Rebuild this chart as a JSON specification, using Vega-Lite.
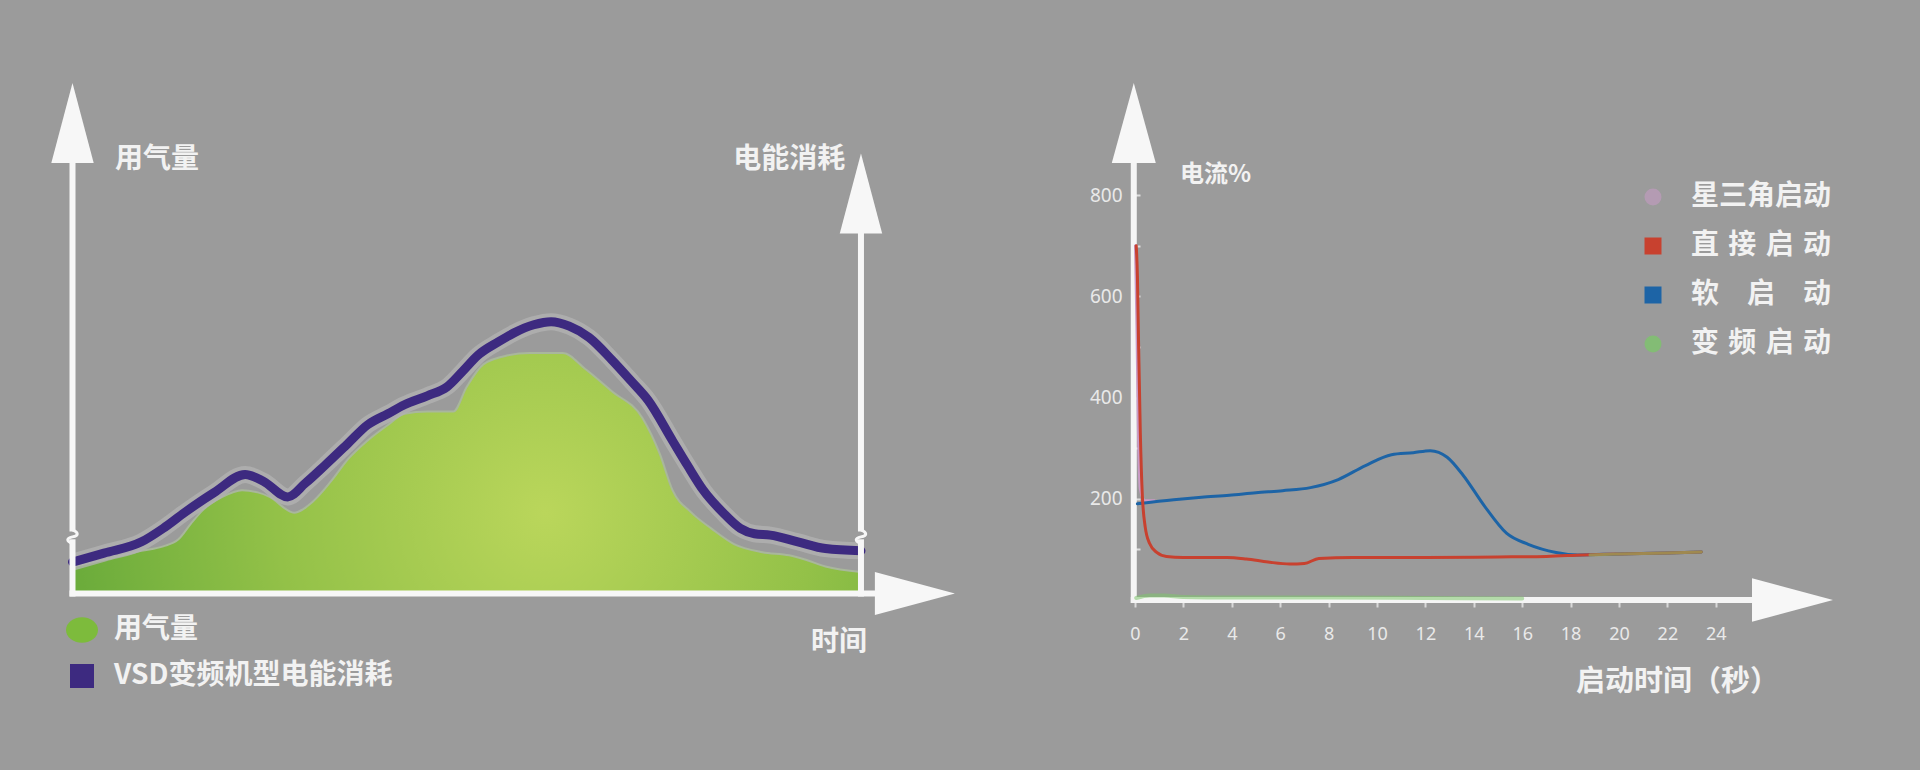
{
  "$schema": "https://vega.github.io/schema/vega-lite/v6.json",
  "background": "#9b9b9b",
  "padding": 0,
  "spacing": 0,
  "config": {"view": {"stroke": null}, "font": "Noto Sans CJK SC"},
  "resolve": {"scale": {"x": "independent", "y": "independent", "color": "independent"}, "legend": {"color": "independent"}},
  "datasets": {
    "usage": [
      {"series": "用气量", "t": 0, "v": 6},
      {"series": "用气量", "t": 4, "v": 7.5},
      {"series": "用气量", "t": 8.75, "v": 9.5},
      {"series": "用气量", "t": 11.5, "v": 10.5},
      {"series": "用气量", "t": 13.4, "v": 12},
      {"series": "用气量", "t": 15, "v": 15.5},
      {"series": "用气量", "t": 16.5, "v": 18.5},
      {"series": "用气量", "t": 19, "v": 21.5},
      {"series": "用气量", "t": 21.5, "v": 23},
      {"series": "用气量", "t": 23.5, "v": 22.5},
      {"series": "用气量", "t": 25, "v": 21.5},
      {"series": "用气量", "t": 28.1, "v": 18},
      {"series": "用气量", "t": 30.5, "v": 20.5},
      {"series": "用气量", "t": 32.8, "v": 25},
      {"series": "用气量", "t": 35, "v": 30},
      {"series": "用气量", "t": 37.4, "v": 34},
      {"series": "用气量", "t": 40, "v": 37.5},
      {"series": "用气量", "t": 42.1, "v": 40},
      {"series": "用气量", "t": 45, "v": 40.5},
      {"series": "用气量", "t": 48.3, "v": 40.5},
      {"series": "用气量", "t": 50, "v": 46},
      {"series": "用气量", "t": 52.1, "v": 51},
      {"series": "用气量", "t": 55.2, "v": 53},
      {"series": "用气量", "t": 58, "v": 53.5},
      {"series": "用气量", "t": 62.2, "v": 53.5},
      {"series": "用气量", "t": 65, "v": 50},
      {"series": "用气量", "t": 68.4, "v": 45},
      {"series": "用气量", "t": 72.3, "v": 39},
      {"series": "用气量", "t": 74.5, "v": 31},
      {"series": "用气量", "t": 76.1, "v": 23},
      {"series": "用气量", "t": 78.5, "v": 18},
      {"series": "用气量", "t": 81, "v": 14.5},
      {"series": "用气量", "t": 83.9, "v": 11},
      {"series": "用气量", "t": 87.5, "v": 9.2},
      {"series": "用气量", "t": 90.9, "v": 8.5},
      {"series": "用气量", "t": 93, "v": 7.5},
      {"series": "用气量", "t": 95.5, "v": 6},
      {"series": "用气量", "t": 100, "v": 4.8},
      {"series": "VSD变频机型电能消耗", "t": 0, "v": 7},
      {"series": "VSD变频机型电能消耗", "t": 4, "v": 9},
      {"series": "VSD变频机型电能消耗", "t": 8.75, "v": 11.5},
      {"series": "VSD变频机型电能消耗", "t": 11.5, "v": 14.5},
      {"series": "VSD变频机型电能消耗", "t": 14.2, "v": 18},
      {"series": "VSD变频机型电能消耗", "t": 18, "v": 22.5},
      {"series": "VSD变频机型电能消耗", "t": 21.9, "v": 26.5},
      {"series": "VSD变频机型电能消耗", "t": 24.2, "v": 25},
      {"series": "VSD变频机型电能消耗", "t": 27.3, "v": 21.5},
      {"series": "VSD变频机型电能消耗", "t": 29.5, "v": 24.5},
      {"series": "VSD变频机型电能消耗", "t": 32, "v": 28.5},
      {"series": "VSD变频机型电能消耗", "t": 35, "v": 33.5},
      {"series": "VSD变频机型电能消耗", "t": 37.4, "v": 37.5},
      {"series": "VSD变频机型电能消耗", "t": 40, "v": 40},
      {"series": "VSD变频机型电能消耗", "t": 42.1, "v": 42},
      {"series": "VSD变频机型电能消耗", "t": 45, "v": 44},
      {"series": "VSD变频机型电能消耗", "t": 47.5, "v": 46},
      {"series": "VSD变频机型电能消耗", "t": 49.5, "v": 49.5},
      {"series": "VSD变频机型电能消耗", "t": 51.4, "v": 53},
      {"series": "VSD变频机型电能消耗", "t": 54, "v": 56},
      {"series": "VSD变频机型电能消耗", "t": 56, "v": 58},
      {"series": "VSD变频机型电能消耗", "t": 58.5, "v": 59.8},
      {"series": "VSD变频机型电能消耗", "t": 60.7, "v": 60.5},
      {"series": "VSD变频机型电能消耗", "t": 63, "v": 59.5},
      {"series": "VSD变频机型电能消耗", "t": 65.5, "v": 57},
      {"series": "VSD变频机型电能消耗", "t": 68.4, "v": 52},
      {"series": "VSD变频机型电能消耗", "t": 71, "v": 47},
      {"series": "VSD变频机型电能消耗", "t": 73, "v": 43},
      {"series": "VSD变频机型电能消耗", "t": 76.1, "v": 34},
      {"series": "VSD变频机型电能消耗", "t": 78, "v": 28.5},
      {"series": "VSD变频机型电能消耗", "t": 80, "v": 23},
      {"series": "VSD变频机型电能消耗", "t": 82.5, "v": 18},
      {"series": "VSD变频机型电能消耗", "t": 84.7, "v": 14.5},
      {"series": "VSD变频机型电能消耗", "t": 86.5, "v": 13.3},
      {"series": "VSD变频机型电能消耗", "t": 88.5, "v": 13},
      {"series": "VSD变频机型电能消耗", "t": 92, "v": 11.5},
      {"series": "VSD变频机型电能消耗", "t": 95.5, "v": 10},
      {"series": "VSD变频机型电能消耗", "t": 100, "v": 9.5}
    ],
    "start": [
      {"series": "星三角启动", "part": "a", "sec": 0.02, "pct": 700},
      {"series": "星三角启动", "part": "a", "sec": 0.08, "pct": 540},
      {"series": "星三角启动", "part": "a", "sec": 0.14, "pct": 340},
      {"series": "星三角启动", "part": "a", "sec": 0.22, "pct": 220},
      {"series": "星三角启动", "part": "a", "sec": 0.4, "pct": 196},
      {"series": "星三角启动", "part": "a", "sec": 0.8, "pct": 196},
      {"series": "软启动", "part": "a", "sec": 0.1, "pct": 190},
      {"series": "软启动", "part": "a", "sec": 1.6, "pct": 198},
      {"series": "软启动", "part": "a", "sec": 2.75, "pct": 203},
      {"series": "软启动", "part": "a", "sec": 3.9, "pct": 207},
      {"series": "软启动", "part": "a", "sec": 5, "pct": 212},
      {"series": "软启动", "part": "a", "sec": 6.1, "pct": 216},
      {"series": "软启动", "part": "a", "sec": 7.25, "pct": 222},
      {"series": "软启动", "part": "a", "sec": 8.4, "pct": 238},
      {"series": "软启动", "part": "a", "sec": 9.5, "pct": 265},
      {"series": "软启动", "part": "a", "sec": 10.6, "pct": 287},
      {"series": "软启动", "part": "a", "sec": 11.5, "pct": 291},
      {"series": "软启动", "part": "a", "sec": 12.2, "pct": 295},
      {"series": "软启动", "part": "a", "sec": 12.9, "pct": 282},
      {"series": "软启动", "part": "a", "sec": 13.55, "pct": 247},
      {"series": "软启动", "part": "a", "sec": 14.45, "pct": 185},
      {"series": "软启动", "part": "a", "sec": 15.35, "pct": 132},
      {"series": "软启动", "part": "a", "sec": 16.25, "pct": 110},
      {"series": "软启动", "part": "a", "sec": 17.4, "pct": 94},
      {"series": "软启动", "part": "a", "sec": 18.3, "pct": 89},
      {"series": "软启动", "part": "a", "sec": 20, "pct": 91},
      {"series": "软启动", "part": "a", "sec": 22, "pct": 93},
      {"series": "软启动", "part": "a", "sec": 23.4, "pct": 95},
      {"series": "直接启动", "part": "a", "sec": 0.05, "pct": 700},
      {"series": "直接启动", "part": "a", "sec": 0.1, "pct": 640},
      {"series": "直接启动", "part": "a", "sec": 0.15, "pct": 500},
      {"series": "直接启动", "part": "a", "sec": 0.22, "pct": 330},
      {"series": "直接启动", "part": "a", "sec": 0.3, "pct": 210},
      {"series": "直接启动", "part": "a", "sec": 0.42, "pct": 145},
      {"series": "直接启动", "part": "a", "sec": 0.6, "pct": 112},
      {"series": "直接启动", "part": "a", "sec": 0.9, "pct": 94},
      {"series": "直接启动", "part": "a", "sec": 1.3, "pct": 86},
      {"series": "直接启动", "part": "a", "sec": 2, "pct": 84},
      {"series": "直接启动", "part": "a", "sec": 3.8, "pct": 84},
      {"series": "直接启动", "part": "a", "sec": 4.6, "pct": 81},
      {"series": "直接启动", "part": "a", "sec": 5.5, "pct": 75},
      {"series": "直接启动", "part": "a", "sec": 6.4, "pct": 71},
      {"series": "直接启动", "part": "a", "sec": 7.0, "pct": 72},
      {"series": "直接启动", "part": "a", "sec": 7.6, "pct": 82},
      {"series": "直接启动", "part": "a", "sec": 9, "pct": 84},
      {"series": "直接启动", "part": "a", "sec": 12, "pct": 84},
      {"series": "直接启动", "part": "a", "sec": 15, "pct": 85},
      {"series": "直接启动", "part": "a", "sec": 17, "pct": 86},
      {"series": "直接启动", "part": "a", "sec": 18.5, "pct": 89},
      {"series": "直接启动", "part": "a", "sec": 20, "pct": 91},
      {"series": "直接启动", "part": "a", "sec": 22, "pct": 93},
      {"series": "直接启动", "part": "a", "sec": 23.4, "pct": 95},
      {"series": "变频启动", "part": "a", "sec": 0.05, "pct": 4},
      {"series": "变频启动", "part": "a", "sec": 0.6, "pct": 9},
      {"series": "变频启动", "part": "a", "sec": 1.2, "pct": 9},
      {"series": "变频启动", "part": "a", "sec": 2, "pct": 6},
      {"series": "变频启动", "part": "a", "sec": 4, "pct": 5},
      {"series": "变频启动", "part": "a", "sec": 8, "pct": 5},
      {"series": "变频启动", "part": "a", "sec": 12, "pct": 4},
      {"series": "变频启动", "part": "a", "sec": 16, "pct": 3},
      {"series": "变频启动", "part": "tail", "sec": 18.8, "pct": 89},
      {"series": "变频启动", "part": "tail", "sec": 20, "pct": 91},
      {"series": "变频启动", "part": "tail", "sec": 22, "pct": 93},
      {"series": "变频启动", "part": "tail", "sec": 23.4, "pct": 95}
    ]
  },
  "hconcat": [
    {
      "width": 960,
      "height": 770,
      "layer": [
        {
          "data": {"name": "usage"},
          "transform": [{"filter": "datum.series === '用气量'"}],
          "mark": {"type": "area", "interpolate": "monotone"},
          "encoding": {
            "x": {"field": "t", "type": "quantitative", "scale": {"domain": [-9.195, 112.56], "nice": false, "zero": false}, "axis": null},
            "y": {"field": "v", "type": "quantitative", "scale": {"domain": [-39.27, 132.07], "nice": false, "zero": false}, "axis": null},
            "y2": {"datum": 0},
            "color": {
              "field": "series", "type": "nominal",
              "scale": {"domain": ["用气量", "VSD变频机型电能消耗"], "range": ["#7dbb3c", "#3d2a80"]},
              "legend": {
                "orient": "none", "legendX": 66, "legendY": 614, "title": null, "padding": 0,
                "labelFont": "Noto Sans CJK SC", "labelFontSize": 28, "labelFontWeight": "bold", "labelColor": "#f2f2f2", "labelLimit": 600,
                "symbolSize": 1024, "labelOffset": 16, "rowPadding": 16,
                "encode": {"symbols": {"update": {
                  "shape": {"signal": "datum.value === '用气量' ? 'M -1 0 A 1 0.8 0 1 1 1 0 A 1 0.8 0 1 1 -1 0 Z' : 'M -0.75 -0.75 L 0.75 -0.75 L 0.75 0.75 L -0.75 0.75 Z'"},
                  "fill": {"signal": "datum.value === '用气量' ? '#7dbb3c' : '#3f2a80'"},
                  "fillOpacity": {"value": 1},
                  "opacity": {"value": 1},
                  "stroke": {"value": "transparent"},
                  "strokeWidth": {"value": 0}
                }}}
              }
            }
          }
        },
        {
          "data": {"name": "usage"},
          "transform": [{"filter": "datum.series === '用气量'"}],
          "mark": {"type": "area", "interpolate": "monotone",
            "fill": {"gradient": "radial", "x1": 0.6, "y1": 0.55, "x2": 0.6, "y2": 0.55, "r1": 0, "r2": 0.62,
              "stops": [{"offset": 0, "color": "#bad65b"}, {"offset": 0.55, "color": "#93c148"}, {"offset": 1, "color": "#68aa3a"}]},
            "stroke": "#a9b79c", "strokeWidth": 2},
          "encoding": {
            "x": {"field": "t", "type": "quantitative", "axis": null},
            "y": {"field": "v", "type": "quantitative", "axis": null},
            "y2": {"datum": 0}
          }
        },
        {
          "data": {"name": "usage"},
          "transform": [{"filter": "datum.series === 'VSD变频机型电能消耗'"}],
          "mark": {"type": "line", "interpolate": "monotone", "color": "#b2b2b2", "strokeWidth": 17, "opacity": 0.8},
          "encoding": {
            "x": {"field": "t", "type": "quantitative", "axis": null},
            "y": {"field": "v", "type": "quantitative", "axis": null}
          }
        },
        {
          "data": {"name": "usage"},
          "transform": [{"filter": "datum.series === 'VSD变频机型电能消耗'"}],
          "mark": {"type": "line", "interpolate": "monotone", "strokeWidth": 9, "strokeCap": "round"},
          "encoding": {
            "x": {"field": "t", "type": "quantitative", "axis": null},
            "y": {"field": "v", "type": "quantitative", "axis": null},
            "color": {"field": "series", "type": "nominal"}
          }
        },
        {
          "data": {"name": "usage"},
          "transform": [{"aggregate": [{"op": "count", "as": "n"}]}],
          "layer": [
            {
              "mark": {"type": "rule", "color": "#f7f7f7", "strokeWidth": 6, "strokeCap": "square"},
              "encoding": {"x": {"datum": 0, "type": "quantitative", "axis": null}, "y": {"datum": 0, "type": "quantitative", "axis": null}, "y2": {"datum": 11.4}}
            },
            {
              "mark": {"type": "rule", "color": "#f7f7f7", "strokeWidth": 6},
              "encoding": {"x": {"datum": 0, "type": "quantitative", "axis": null}, "y": {"datum": 13.8, "type": "quantitative", "axis": null}, "y2": {"datum": 100}}
            },
            {
              "mark": {"type": "rule", "color": "#f7f7f7", "strokeWidth": 6, "strokeCap": "square"},
              "encoding": {"x": {"datum": 100, "type": "quantitative", "axis": null}, "y": {"datum": 0, "type": "quantitative", "axis": null}, "y2": {"datum": 11.4}}
            },
            {
              "mark": {"type": "rule", "color": "#f7f7f7", "strokeWidth": 6},
              "encoding": {"x": {"datum": 100, "type": "quantitative", "axis": null}, "y": {"datum": 13.8, "type": "quantitative", "axis": null}, "y2": {"datum": 84}}
            },
            {
              "mark": {"type": "rule", "color": "#f7f7f7", "strokeWidth": 6, "strokeCap": "square"},
              "encoding": {"x": {"datum": 0, "type": "quantitative", "axis": null}, "x2": {"datum": 102}, "y": {"datum": 0, "type": "quantitative", "axis": null}}
            },
            {
              "mark": {"type": "point", "filled": false, "stroke": "#f7f7f7", "strokeWidth": 3, "opacity": 1, "size": 196,
                "shape": "M 0 -1 C 0.9 -0.6 0.9 -0.2 0 0 C -0.9 0.2 -0.9 0.6 0 1"},
              "encoding": {"x": {"datum": 0, "type": "quantitative", "axis": null}, "y": {"datum": 12.6, "type": "quantitative", "axis": null}}
            },
            {
              "mark": {"type": "point", "filled": false, "stroke": "#f7f7f7", "strokeWidth": 3, "opacity": 1, "size": 196,
                "shape": "M 0 -1 C 0.9 -0.6 0.9 -0.2 0 0 C -0.9 0.2 -0.9 0.6 0 1"},
              "encoding": {"x": {"datum": 100, "type": "quantitative", "axis": null}, "y": {"datum": 12.6, "type": "quantitative", "axis": null}}
            },
            {
              "mark": {"type": "point", "filled": true, "color": "#f7f7f7", "opacity": 1, "strokeWidth": 0, "size": 6400,
                "shape": "M 0 -1 L 0.53 1 L -0.53 1 Z"},
              "encoding": {"x": {"datum": 0, "type": "quantitative", "axis": null}, "y": {"datum": 104.7, "type": "quantitative", "axis": null}}
            },
            {
              "mark": {"type": "point", "filled": true, "color": "#f7f7f7", "opacity": 1, "strokeWidth": 0, "size": 6400,
                "shape": "M 0 -1 L 0.53 1 L -0.53 1 Z"},
              "encoding": {"x": {"datum": 100, "type": "quantitative", "axis": null}, "y": {"datum": 89, "type": "quantitative", "axis": null}}
            },
            {
              "mark": {"type": "point", "filled": true, "color": "#f7f7f7", "opacity": 1, "strokeWidth": 0, "size": 6400,
                "shape": "M 1 0 L -1 0.54 L -1 -0.54 Z"},
              "encoding": {"x": {"datum": 106.84, "type": "quantitative", "axis": null}, "y": {"datum": 0, "type": "quantitative", "axis": null}}
            },
            {
              "mark": {"type": "text", "align": "left", "baseline": "middle", "font": "Noto Sans CJK SC", "fontSize": 28, "fontWeight": "bold", "color": "#f2f2f2"},
              "encoding": {"text": {"value": "用气量"}, "x": {"datum": 5.39, "type": "quantitative", "axis": null}, "y": {"datum": 96.5, "type": "quantitative", "axis": null}}
            },
            {
              "mark": {"type": "text", "align": "right", "baseline": "middle", "font": "Noto Sans CJK SC", "fontSize": 28, "fontWeight": "bold", "color": "#f2f2f2"},
              "encoding": {"text": {"value": "电能消耗"}, "x": {"datum": 98.0, "type": "quantitative", "axis": null}, "y": {"datum": 96.5, "type": "quantitative", "axis": null}}
            },
            {
              "mark": {"type": "text", "align": "right", "baseline": "middle", "font": "Noto Sans CJK SC", "fontSize": 28, "fontWeight": "bold", "color": "#f2f2f2"},
              "encoding": {"text": {"value": "时间"}, "x": {"datum": 100.76, "type": "quantitative", "axis": null}, "y": {"datum": -11, "type": "quantitative", "axis": null}}
            }
          ]
        }
      ]
    },
    {
      "width": 960,
      "height": 770,
      "layer": [
        {
          "data": {"name": "start"},
          "transform": [{"aggregate": [{"op": "count", "as": "n"}]}],
          "layer": [
            {
              "mark": {"type": "rule", "color": "#f5f5f5", "strokeWidth": 6, "strokeCap": "square"},
              "encoding": {"x": {"datum": -0.05, "type": "quantitative"}, "y": {"datum": 0, "type": "quantitative"}, "y2": {"datum": 880}}
            },
            {
              "mark": {"type": "rule", "color": "#f5f5f5", "strokeWidth": 6, "strokeCap": "square"},
              "encoding": {"x": {"datum": -0.05, "type": "quantitative"}, "x2": {"datum": 25.9}, "y": {"datum": 0, "type": "quantitative"}}
            }
          ]
        },
        {
          "data": {"name": "start"},
          "mark": {"type": "line", "interpolate": "monotone", "strokeCap": "round"},
          "encoding": {
            "x": {"field": "sec", "type": "quantitative",
              "scale": {"domain": [-7.231, 32.438], "nice": false, "zero": false},
              "axis": {"values": [0,1,2,3,4,5,6,7,8,9,10,11,12,13,14,15,16,17,18,19,20,21,22,23,24],
                "labelExpr": "datum.value % 2 === 0 ? datum.label : ''",
                "domain": false, "grid": false, "offset": -170, "tickSize": 7, "tickWidth": 2, "tickColor": "#d9d9d9",
                "labelPadding": 18, "labelFont": "Noto Sans", "labelFontSize": 18, "labelColor": "#e9e9e9",
                "labelFlush": false, "labelOverlap": false, "title": null}},
            "y": {"field": "pct", "type": "quantitative",
              "scale": {"domain": [-335.8, 1185.2], "nice": false, "zero": false},
              "axis": {"values": [0,100,200,300,400,500,600,700,800],
                "labelExpr": "datum.value > 0 && datum.value % 200 === 0 ? datum.label : ''",
                "domain": false, "grid": false, "offset": -175, "tickSize": -5, "tickWidth": 2, "tickColor": "#dedede",
                "labelPadding": 18, "labelFont": "Noto Sans", "labelFontSize": 19, "labelColor": "#e9e9e9",
                "labelFlush": false, "labelOverlap": false, "title": null}},
            "detail": {"field": "part", "type": "nominal"},
            "color": {
              "field": "series", "type": "nominal",
              "scale": {"domain": ["星三角启动", "直接启动", "软启动", "变频启动"], "range": ["#c99bc6", "#c8412f", "#1d64a6", "#7dc46c"]},
              "legend": {
                "orient": "none", "legendX": 679, "legendY": 183, "title": null, "padding": 0,
                "labelFont": "Noto Sans CJK SC", "labelFontSize": 28, "labelFontWeight": "bold", "labelColor": "#f2f2f2", "labelLimit": 600,
                "symbolSize": 289, "labelOffset": 24, "rowPadding": 21,
                "labelExpr": "datum.label === '直接启动' ? '直\u2004接\u2004启\u2004动' : datum.label === '软启动' ? '软\u2003启\u2003动' : datum.label === '变频启动' ? '变\u2004频\u2004启\u2004动' : datum.label",
                "encode": {"symbols": {"update": {
                  "shape": {"signal": "datum.value === '星三角启动' || datum.value === '变频启动' ? 'circle' : 'square'"},
                  "fill": {"signal": "datum.value === '星三角启动' ? '#c99bc6' : datum.value === '直接启动' ? '#c8412f' : datum.value === '软启动' ? '#1d64a6' : '#7dc46c'"},
                  "fillOpacity": {"value": 1},
                  "opacity": {"signal": "datum.value === '星三角启动' ? 0.55 : datum.value === '变频启动' ? 0.8 : 1"},
                  "stroke": {"value": "transparent"},
                  "strokeWidth": {"value": 0}
                }}}
              }
            },
            "strokeOpacity": {"condition": {"test": "datum.series === '变频启动'", "value": 0.55}, "value": 1},
            "strokeWidth": {"condition": {"test": "datum.series === '变频启动' && datum.part === 'a'", "value": 4}, "value": 3}
          }
        },
        {
          "data": {"name": "start"},
          "transform": [{"aggregate": [{"op": "count", "as": "n"}]}],
          "layer": [
            {
              "mark": {"type": "point", "filled": true, "color": "#f7f7f7", "opacity": 1, "strokeWidth": 0, "size": 6400,
                "shape": "M 0 -1 L 0.55 1 L -0.55 1 Z"},
              "encoding": {"x": {"datum": -0.05, "type": "quantitative"}, "y": {"datum": 942, "type": "quantitative"}}
            },
            {
              "mark": {"type": "point", "filled": true, "color": "#f7f7f7", "opacity": 1, "strokeWidth": 0, "size": 6561,
                "shape": "M 1 0 L -1 0.54 L -1 -0.54 Z"},
              "encoding": {"x": {"datum": 27.17, "type": "quantitative"}, "y": {"datum": 0, "type": "quantitative"}}
            },
            {
              "mark": {"type": "text", "align": "left", "baseline": "middle", "font": "Noto Sans CJK SC", "fontSize": 24, "fontWeight": "bold", "color": "#f2f2f2"},
              "encoding": {"text": {"value": "电流%"}, "x": {"datum": 1.86, "type": "quantitative"}, "y": {"datum": 839.5, "type": "quantitative"}}
            },
            {
              "mark": {"type": "text", "align": "left", "baseline": "middle", "font": "Noto Sans CJK SC", "fontSize": 29, "fontWeight": "bold", "color": "#f2f2f2"},
              "encoding": {"text": {"value": "启动时间（秒）"}, "x": {"datum": 18.22, "type": "quantitative"}, "y": {"datum": -162, "type": "quantitative"}}
            }
          ]
        }
      ]
    }
  ]
}
